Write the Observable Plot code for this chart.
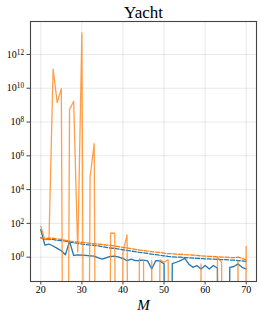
<!DOCTYPE html>
<html>
<head>
<meta charset="utf-8">
<script src="https://cdn.jsdelivr.net/npm/d3@7"></script>
<script src="https://cdn.jsdelivr.net/npm/@observablehq/plot@0.6"></script>
<style>
  html, body { margin: 0; padding: 0; background: #fff; }
  #chart { width: 260px; height: 319px; }
</style>
</head>
<body>
<div id="chart"></div>
<script>
const title = "Yacht";
const xLabel = "M";
const M = [20,21,22,23,24,25,26,27,28,29,30,31,32,33,34,35,36,37,38,39,40,41,42,43,44,45,46,47,48,49,50,51,52,53,54,55,56,57,58,59,60,61,62,63,64,65,66,67,68,69,70];
// blue solid
const blueSolid = [42,5.2,6.0,4.6,3.3,2.4,1.4,8.9,1.26,1.38,1.32,1.26,1.2,1.15,0.9,0.76,0.95,1.12,1.15,1.0,0.83,0.63,0.76,0.63,0.63,0.66,0.6,0.2,0.63,0.6,0.41,0,0.41,0.5,0.63,0.87,0.4,0.25,0.32,0.2,0.32,0.2,0.32,0.22,0,0,0.25,0.28,0.4,0.25,0.2];
// blue dashed
const blueDashed = [14.1,11.2,11.2,11.2,10,9.5,8.9,7.9,7.1,6.6,6.0,5.6,5.2,5.0,4.6,4.2,3.8,3.5,3.3,3.0,2.75,2.5,2.3,2.1,1.9,1.8,1.66,1.5,1.4,1.32,1.2,1.1,1.05,1.0,1.0,0.95,0.91,0.89,0.85,0.83,0.79,0.79,0.76,0.74,0.72,0.71,0.68,0.66,0.63,0.6,0.56];
// orange solid (0 = non-positive)
const orangeSolid = [69,11,11,1.35e11,1.4e9,9.5e9,0,5.5e8,1.7e9,2.0,1.9e13,0,5.5e4,5.2e6,0,0,0,26,26,0,2.0,21,0,0,0.8,0.63,0,0.63,0,0.7,0.5,0.7,0,0,0,0,0,0,0,0.4,0,0,0,1.0,0.5,0,0,0,0.63,0,4.3];
// orange dashed
const orangeDashed = [14.1,12.6,13.2,13.2,12.0,11.2,10,8.9,8.3,7.9,7.6,7.1,6.6,6.3,6.0,5.6,5.2,5.0,4.6,4.2,3.8,3.5,3.2,2.9,2.6,2.5,2.3,2.1,2.0,1.9,1.74,1.6,1.6,1.5,1.48,1.41,1.38,1.32,1.26,1.2,1.15,1.12,1.1,1.05,1.02,1.0,0.95,0.93,1.0,0.83,0.72];
const xTicks = [20,30,40,50,60,70];
const yTicks = [1e0,1e2,1e4,1e6,1e8,1e10,1e12];

const BLUE = "#1f77b4", ORANGE = "#ff7f0e";
const serif = "'Liberation Serif','DejaVu Serif',serif";
const fmtPow = d => "10^" + Math.round(Math.log10(d));

const mk = (vals) => M.map((m, i) => ({m, v: vals[i] > 0 ? vals[i] : 1e-40}));

const chart = Plot.plot({
  width: 260, height: 319,
  marginTop: 21, marginBottom: 38, marginLeft: 30, marginRight: 4,
  style: {fontFamily: serif, background: "#fff", color: "#000", overflow: "visible"},
  x: {domain: [17.5, 72.5]},
  y: {type: "log", domain: [Math.pow(10, -1.44), Math.pow(10, 13.95)]},
  marks: [
    Plot.gridX(xTicks, {stroke: "#000", strokeOpacity: 0.09}),
    Plot.gridY(yTicks, {stroke: "#000", strokeOpacity: 0.09}),
    Plot.line(mk(blueSolid), {x: "m", y: "v", stroke: BLUE, strokeWidth: 1.3, clip: true}),
    Plot.line(mk(blueDashed), {x: "m", y: "v", stroke: BLUE, strokeWidth: 1.3, strokeDasharray: "4,1.8", clip: true}),
    Plot.line(mk(orangeDashed), {x: "m", y: "v", stroke: ORANGE, strokeWidth: 1.3, strokeDasharray: "4,1.8", clip: true}),
    Plot.line(mk(orangeSolid), {x: "m", y: "v", stroke: ORANGE, strokeOpacity: 0.75, strokeWidth: 1.3, clip: true}),
    Plot.frame({stroke: "#444", strokeWidth: 1.1}),
    Plot.axisX(xTicks, {tickSize: 3.5, tickPadding: 1, fontSize: 10, label: null, stroke: "#444"}),
    Plot.axisY(yTicks, {tickSize: 3.5, tickPadding: 3, fontSize: 10, label: null, tickFormat: fmtPow, stroke: "#444"}),
    Plot.text([title], {frameAnchor: "top", lineAnchor: "bottom", dy: -4, fontSize: 17, fill: "#000"}),
    Plot.text([xLabel], {frameAnchor: "bottom", lineAnchor: "top", dy: 18, fontSize: 15, fontStyle: "italic", fill: "#000"})
  ]
});
// turn "10^k" labels into 10 with a superscript exponent
chart.querySelectorAll('g[aria-label="y-axis tick label"] text').forEach(t => {
  const s = t.textContent;
  const i = s.indexOf("^");
  if (i < 0) return;
  const base = s.slice(0, i), exp = s.slice(i + 1);
  t.textContent = base;
  const ts = document.createElementNS("http://www.w3.org/2000/svg", "tspan");
  ts.setAttribute("dy", "-0.42em");
  ts.setAttribute("font-size", "7.2");
  ts.textContent = exp;
  t.appendChild(ts);
});
document.getElementById("chart").appendChild(chart);
</script>
</body>
</html>
